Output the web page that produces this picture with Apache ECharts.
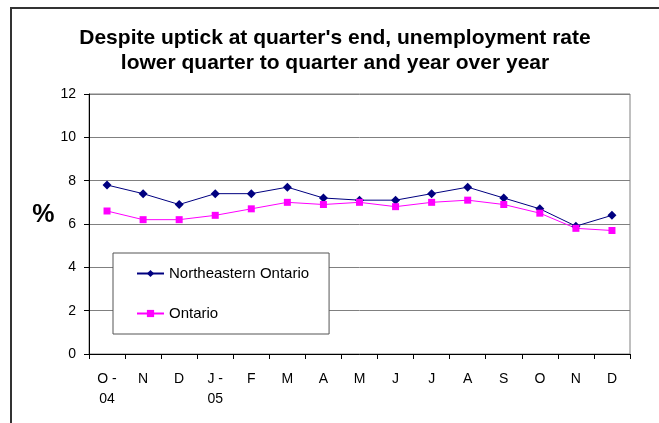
<!DOCTYPE html>
<html>
<head>
<meta charset="utf-8">
<script src="https://cdn.jsdelivr.net/npm/echarts@6/dist/echarts.min.js"></script>
<style>
  html, body { margin: 0; padding: 0; background: #fff; }
  #chart { width: 659px; height: 423px; }
</style>
</head>
<body>
<div id="chart"></div>
<script>
// months Oct 2004 .. Dec 2005
var months = ['O -\n04', 'N', 'D', 'J -\n05', 'F', 'M', 'A', 'M', 'J', 'J', 'A', 'S', 'O', 'N', 'D'];
var northeastern = [7.8, 7.4, 6.9, 7.4, 7.4, 7.7, 7.2, 7.1, 7.1, 7.4, 7.7, 7.2, 6.7, 5.9, 6.4];
var ontario = [6.6, 6.2, 6.2, 6.4, 6.7, 7.0, 6.9, 7.0, 6.8, 7.0, 7.1, 6.9, 6.5, 5.8, 5.7];
var yTicks = {min: 0, max: 12, interval: 2};

var font = '"Liberation Sans", Arial, sans-serif';
var myChart = echarts.init(document.getElementById('chart'));
myChart.setOption({
  animation: false,
  backgroundColor: '#fff',
  textStyle: {fontFamily: font, color: '#000'},
  title: {
    text: "Despite uptick at quarter's end, unemployment rate\nlower quarter to quarter and year over year",
    left: 335,
    top: 26,
    padding: 0,
    textAlign: 'center',
    textStyle: {fontSize: 21, fontWeight: 'bold', lineHeight: 25, color: '#000', fontFamily: font}
  },
  graphic: [{
    // outer chart frame (cut off at right and bottom)
    type: 'rect',
    shape: {x: 11, y: 8, width: 800, height: 600},
    style: {fill: 'none', stroke: '#333', lineWidth: 2},
    silent: true
  }],
  legend: {
    orient: 'vertical',
    left: 113,
    top: 253,
    backgroundColor: '#fff',
    borderColor: '#555',
    borderWidth: 1,
    borderRadius: 0,
    padding: [13, 20, 13, 23],
    itemGap: 25,
    itemWidth: 27,
    itemHeight: 9,
    textStyle: {fontSize: 15, color: '#000', fontFamily: font},
    data: ['Northeastern Ontario', 'Ontario']
  },
  grid: {
    left: 89, top: 94, right: 29, bottom: 69,
    show: true, borderColor: '#808080', borderWidth: 1, backgroundColor: '#fff'
  },
  xAxis: {
    type: 'category',
    data: months,
    boundaryGap: true,
    axisLine: {lineStyle: {color: '#000', width: 1}},
    axisTick: {show: true, length: 5, lineStyle: {color: '#000'}},
    axisLabel: {color: '#000', fontSize: 14, lineHeight: 20, margin: 15, interval: 0, fontFamily: font},
    splitLine: {show: false}
  },
  yAxis: {
    type: 'value',
    min: yTicks.min, max: yTicks.max, interval: yTicks.interval,
    name: '%',
    nameLocation: 'middle',
    nameRotate: 0,
    nameGap: 32,
    nameTextStyle: {fontSize: 25, fontWeight: 'bold', color: '#000', fontFamily: font, lineHeight: 18, verticalAlign: 'bottom'},
    axisLine: {show: true, lineStyle: {color: '#000', width: 1}},
    axisTick: {show: true, length: 5, lineStyle: {color: '#000'}},
    axisLabel: {color: '#000', fontSize: 14, margin: 13, fontFamily: font},
    splitLine: {lineStyle: {color: '#808080', width: 1}}
  },
  series: [{
    name: 'Northeastern Ontario',
    type: 'line',
    data: northeastern,
    color: '#000080',
    symbol: 'diamond',
    symbolSize: 9,
    showAllSymbol: true,
    lineStyle: {width: 1, color: '#000080'}
  }, {
    name: 'Ontario',
    type: 'line',
    data: ontario,
    color: '#ff00ff',
    symbol: 'rect',
    symbolSize: 7,
    showAllSymbol: true,
    lineStyle: {width: 1, color: '#ff00ff'}
  }]
});
</script>
</body>
</html>
